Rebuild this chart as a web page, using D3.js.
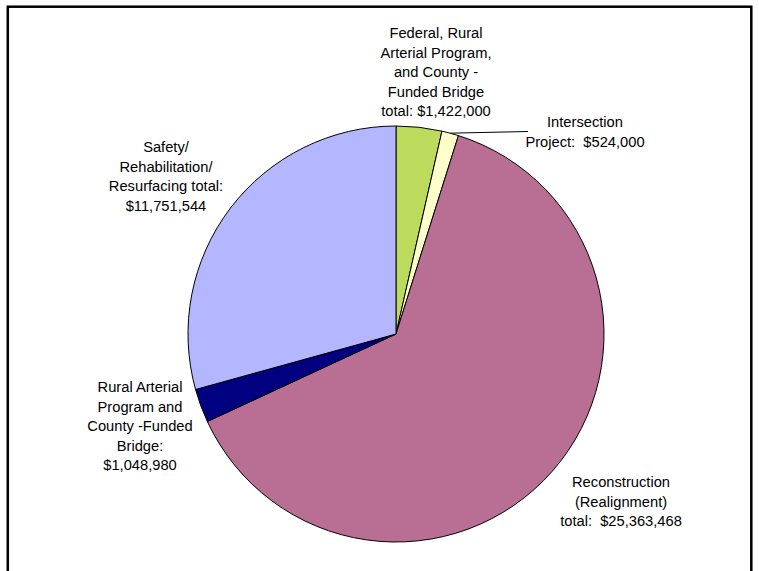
<!DOCTYPE html>
<html>
<head>
<meta charset="utf-8">
<script src="https://cdn.jsdelivr.net/npm/d3@7"></script>
<style>
  html, body { margin: 0; padding: 0; background: #fff; }
  svg { display: block; }
  text { font-family: Arial, "Liberation Sans", sans-serif; font-size: 14.7px; fill: #000; }
</style>
</head>
<body>
<svg id="chart" width="759" height="571"></svg>
<script>
// Data (clockwise from 12 o'clock)
const categories = [
  "Federal, Rural Arterial Program, and County - Funded Bridge",
  "Intersection Project",
  "Reconstruction (Realignment)",
  "Rural Arterial Program and County -Funded Bridge",
  "Safety/ Rehabilitation/ Resurfacing"
];
const values = [1422000, 524000, 25363468, 1048980, 11751544];
const colors = ["#bcdb5c", "#ffffcc", "#b96e94", "#000080", "#b4b6ff"];
const labelLines = [
  ["Federal, Rural", "Arterial Program,", "and County -", "Funded Bridge", "total: $1,422,000"],
  ["Intersection", "Project:  $524,000"],
  ["Reconstruction", "(Realignment)", "total:  $25,363,468"],
  ["Rural Arterial", "Program and", "County -Funded", "Bridge:", "$1,048,980"],
  ["Safety/", "Rehabilitation/", "Resurfacing total:", "$11,751,544"]
];

// Layout
const cx = 396, cy = 334, R = 208;
const lineH = 19.5;
// label anchor: center x and first baseline y
const labelPos = [
  [436, 38],
  [585, 127],
  [621, 487],
  [140, 392],
  [166, 152]
];

const svg = d3.select("#chart");

// frame
svg.append("rect")
  .attr("x", 7.8).attr("y", 6.7)
  .attr("width", 743.5).attr("height", 640)
  .attr("fill", "none").attr("stroke", "#000").attr("stroke-width", 2.5);

const pie = d3.pie().sort(null).value(d => d)(values);
const arc = d3.arc().innerRadius(0).outerRadius(R);

const g = svg.append("g").attr("transform", `translate(${cx},${cy})`);
g.selectAll("path.slice")
  .data(pie)
  .join("path")
  .attr("class", "slice")
  .attr("d", arc)
  .attr("fill", (d, i) => colors[i])
  .attr("stroke", "#000")
  .attr("stroke-width", 1)
  .attr("stroke-linejoin", "round");

// leader line for the Intersection slice
const p1 = pie[1];
const mid = (p1.startAngle + p1.endAngle) / 2;
const ex = cx + R * Math.sin(mid), ey = cy - R * Math.cos(mid);
svg.append("line")
  .attr("x1", ex).attr("y1", ey)
  .attr("x2", 528).attr("y2", 131.5)
  .attr("stroke", "#000").attr("stroke-width", 1);

// labels
labelLines.forEach((lines, i) => {
  const [lx, ly] = labelPos[i];
  const t = svg.append("text")
    .attr("text-anchor", "middle");
  lines.forEach((ln, j) => {
    t.append("tspan")
      .attr("x", lx)
      .attr("y", ly + j * lineH)
      .attr("xml:space", "preserve")
      .style("white-space", "pre")
      .text(ln);
  });
});
</script>
</body>
</html>
